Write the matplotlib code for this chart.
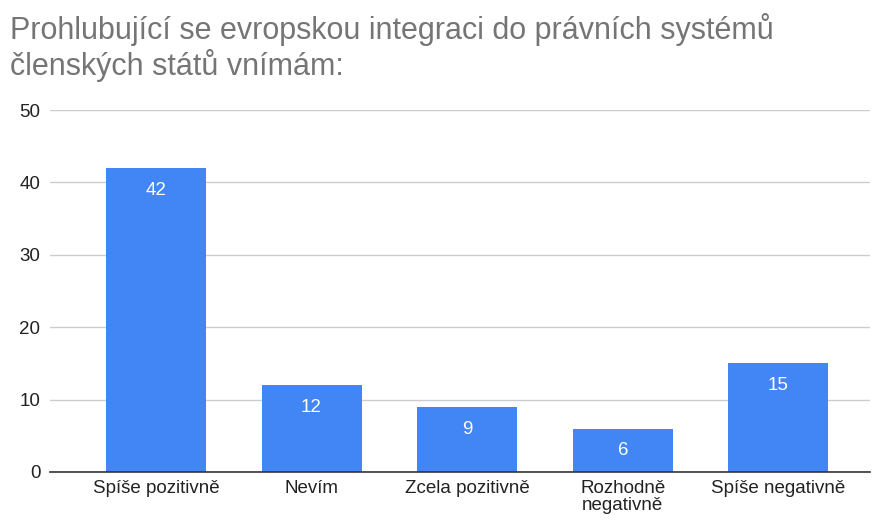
import matplotlib.pyplot as plt

plt.rcParams['font.family'] = ['Liberation Sans', 'DejaVu Sans']

categories = ["Spíše pozitivně", "Nevím", "Zcela pozitivně", "Rozhodně\nnegativně", "Spíše negativně"]
values = [42, 12, 9, 6, 15]
y_ticks = [0, 10, 20, 30, 40, 50]
title = "Prohlubující se evropskou integraci do právních systémů\nčlenských států vnímám:"

bar_colour = "#4285F4"

fig = plt.figure(figsize=(8.72, 5.21), dpi=100)
ax = fig.add_axes([50 / 872, 49 / 521, 820 / 872, 362 / 521])

positions = range(len(categories))
ax.bar(positions, values, width=0.643, color=bar_colour, zorder=3)

for x, v in zip(positions, values):
    ax.annotate(str(v), (x, v), xytext=(0, -16), textcoords="offset points",
                ha="center", va="center", color="white", fontsize=13.5, zorder=4)

ax.set_xlim(-0.681, 4.589)
ax.set_ylim(0, 50)
ax.set_yticks(y_ticks)
ax.set_xticks(list(positions))
ax.set_xticklabels(categories, fontsize=13.5, color="#222222", linespacing=1.0)
ax.tick_params(axis="y", labelsize=13.5, labelcolor="#222222", length=0, pad=7)
ax.tick_params(axis="x", length=0, pad=6)

ax.grid(axis="y", color="#cccccc", linewidth=1, zorder=0)
for side in ["top", "right", "left"]:
    ax.spines[side].set_visible(False)
ax.spines["bottom"].set_color("#333333")
ax.spines["bottom"].set_linewidth(1.2)
ax.spines["bottom"].set_zorder(5)

fig.text(10 / 872, 1 - 75 / 521, title, ha="left", va="baseline", fontsize=22,
         color="#757575", linespacing=1.12)

fig.savefig("out.png", dpi=100)
